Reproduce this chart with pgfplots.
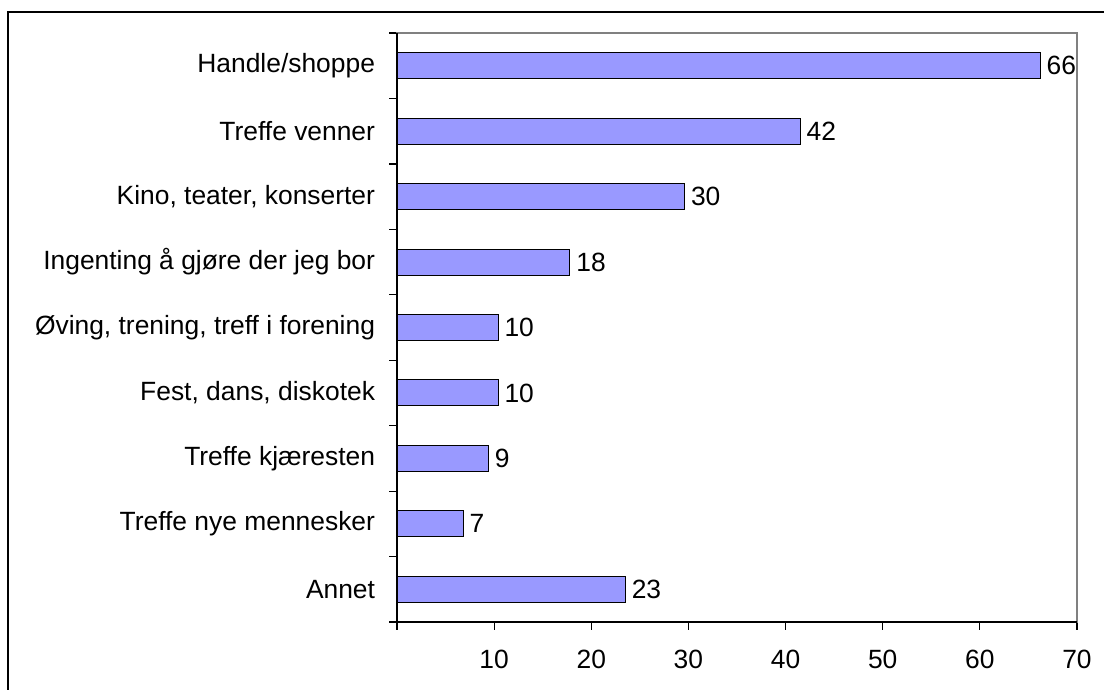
\documentclass[border=0pt]{standalone}
\usepackage{fontspec}
\setmainfont{Liberation Sans}[Ligatures=NoCommon]
\usepackage{pgfplots}
\pgfplotsset{compat=1.18}
\definecolor{barblue}{HTML}{9999FF}
\definecolor{framegray}{HTML}{808080}
\begin{document}
\begin{tikzpicture}
\useasboundingbox (0,0) rectangle (552pt,345pt);
% outer chart frame (right and bottom edges are cut off)
\draw[black, line width=0.75pt] (4pt,0) -- (4pt,339pt) -- (552pt,339pt);
\begin{axis}[
    at={(198.5pt,34pt)}, anchor=south west,
    scale only axis, width=340pt, height=294.5pt,
    xbar, bar width=13pt, bar shift=0pt,
    xmin=0, xmax=70, ymin=-0.5, ymax=8.5,
    y dir=reverse,
    axis line style={draw=framegray, line width=0.75pt},
    xtick={0,10,...,70},
    xticklabels={,10,20,30,40,50,60,70},
    xtick pos=bottom, ytick pos=left,
    tick align=outside,
    major tick length=3.8pt,
    tick style={black, line width=0.6pt},
    ytick={-0.5,0.5,...,8.5},
    y tick label as interval,
    yticklabels={Handle/shoppe,Treffe venner,{Kino, teater, konserter},Ingenting å gjøre der jeg bor,{Øving, trening, treff i forening},{Fest, dans, diskotek},Treffe kjæresten,Treffe nye mennesker,Annet},
    tick label style={font=\fontsize{13.2}{15}\selectfont, text=black},
    /pgf/number format/assume math mode=true,
    yticklabel style={inner sep=0pt, xshift=-7pt},
    xticklabel style={inner sep=0pt, yshift=-10pt},
    point meta=explicit symbolic,
    nodes near coords,
    nodes near coords style={font=\fontsize{13.2}{15}\selectfont, anchor=west, inner sep=0pt, xshift=3pt, text=black},
    grid=none,
    clip=false,
]
\addplot[fill=barblue, draw=black, line width=0.5pt] coordinates {
    (66.2,0) [66]
    (41.5,1) [42]
    (29.6,2) [30]
    (17.8,3) [18]
    (10.4,4) [10]
    (10.4,5) [10]
    (9.4,6) [9]
    (6.8,7) [7]
    (23.5,8) [23]
};
\draw[black, line width=0.75pt] (axis description cs:0,1) -- (axis description cs:0,0) -- (axis description cs:1,0);
\end{axis}
\end{tikzpicture}
\end{document}
